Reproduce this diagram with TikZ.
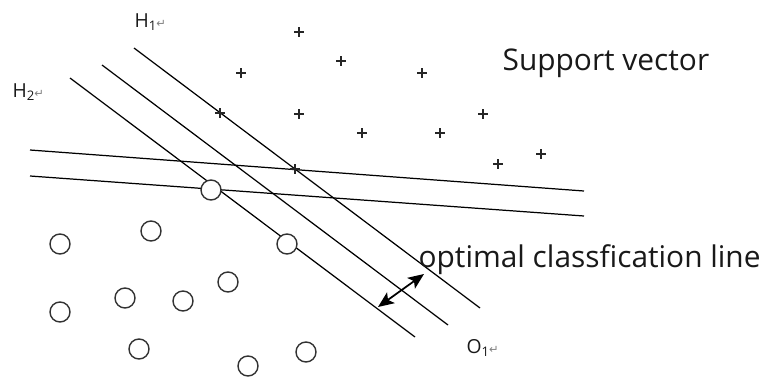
\documentclass[tikz,border=0pt]{standalone}
\usepackage{fontspec}
\setmainfont{Open Sans}
\newfontfamily\retfont{DejaVu Sans}
\usetikzlibrary{arrows.meta}
\newcommand{\ret}{{\retfont\fontsize{6.5}{7}\selectfont\color{black!50}\raisebox{-0.1ex}{↵}}}
\newcommand{\lowsub}[1]{\raisebox{-0.35ex}{\fontsize{7.5}{8}\selectfont #1}}
\begin{document}
\begin{tikzpicture}[x=0.02cm,y=-0.02cm,line width=0.7pt,
  dot/.style={circle,draw=black!80,line width=0.8pt,fill=white,minimum size=0.4cm,inner sep=0pt},
  lbl/.style={text=black!90,inner sep=0pt,anchor=base west,font=\fontsize{11}{13}\selectfont}]
\useasboundingbox (0,0) rectangle (761,376);
% the two near-horizontal lines
\draw (30,150) -- (584,191);
\draw (30,176) -- (584,216);
% three parallel lines
\draw (134,48) -- (480,308);
\draw (102,65) -- (448,325);
\draw (70,78) -- (415,337);
% positive samples
\foreach \x/\y [count=\i] in {299/32,341/61,241/73,422/73,220/113,299/114,483/114,362/133,440/133,295/169,541/154,498/164}
  \draw[line width=0.75pt,black!85] (\x-5,\y) -- (\x+5,\y) (\x,\y-5) -- (\x,\y+5) coordinate (p\i);
% negative samples
\foreach \x/\y [count=\i] in {211/190,151/231,60/244,287/244,228/282,125/298,183/301,60/312,139/349,306/352,248/366}
  \node[dot] (n\i) at (\x,\y) {};
% margin arrow
\coordinate (m1) at (378,307);
\coordinate (m2) at (424,274);
\draw[{Stealth[length=9pt,width=7.5pt,inset=2pt]}-{Stealth[length=9pt,width=7.5pt,inset=2pt]},line width=1pt] (m1) -- (m2);
% labels
\node[lbl] (h1) at (134,27) {H\lowsub{1}\ret};
\node[lbl] (h2) at (12,97) {H\lowsub{2}\ret};
\node[lbl] (o1) at (466,353) {O\lowsub{1}\ret};
\node[lbl,font=\fontsize{17}{20}\selectfont] (sv) at (502,70) {Support vector};
\node[lbl,font=\fontsize{17}{20}\selectfont] (ocl) at (418,267) {optimal classfication line};
\end{tikzpicture}
\end{document}
